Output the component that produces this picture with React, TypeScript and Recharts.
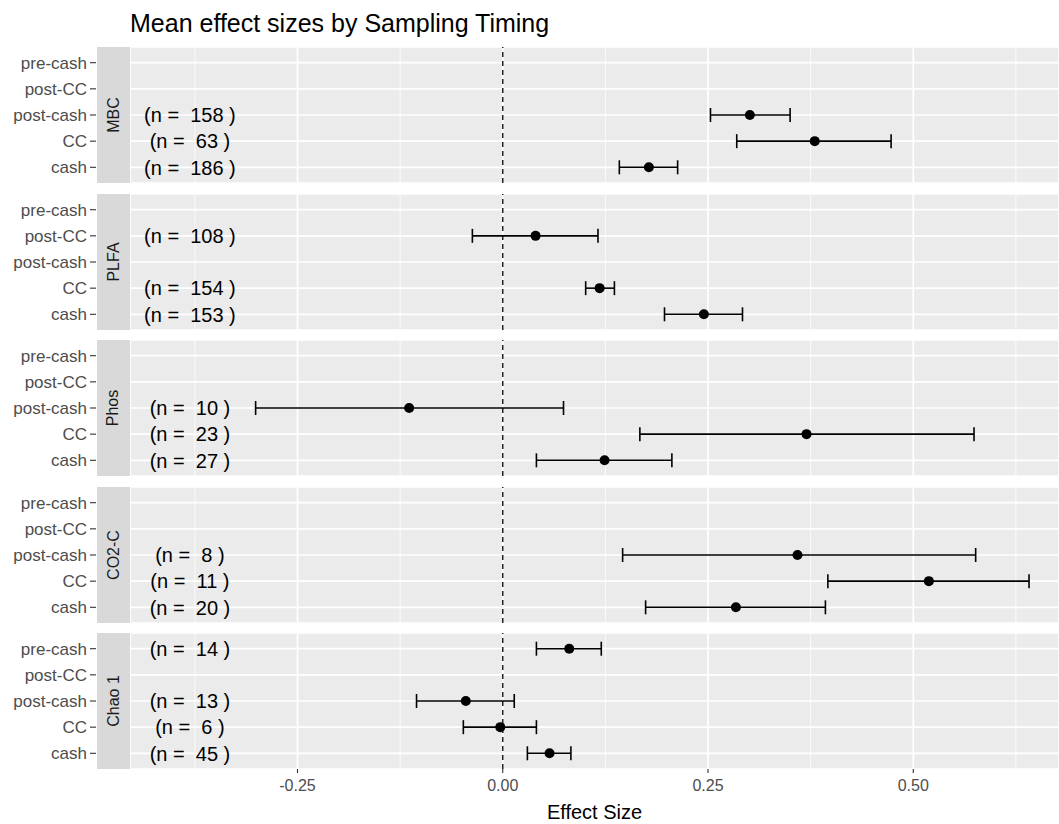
import { ScatterChart, Scatter, XAxis, YAxis, CartesianGrid, ReferenceLine, ErrorBar } from "recharts"

// facet order (top to bottom) and sampling timing order (bottom to top)
const facets = ["MBC", "PLFA", "Phos", "CO2-C", "Chao 1"]
const timings = ["cash", "CC", "post-cash", "post-CC", "pre-cash"]

// one entry per estimate
const rowFacet = [
  "MBC", "MBC", "MBC",
  "PLFA", "PLFA", "PLFA",
  "Phos", "Phos", "Phos",
  "CO2-C", "CO2-C", "CO2-C",
  "Chao 1", "Chao 1", "Chao 1", "Chao 1",
]
const rowTiming = [
  "post-cash", "CC", "cash",
  "post-CC", "CC", "cash",
  "post-cash", "CC", "cash",
  "post-cash", "CC", "cash",
  "pre-cash", "post-cash", "CC", "cash",
]
const effect = [0.301, 0.38, 0.178, 0.04, 0.118, 0.245, -0.114, 0.37, 0.124, 0.359, 0.519, 0.284, 0.081, -0.045, -0.003, 0.057]
const lower = [0.253, 0.285, 0.142, -0.037, 0.101, 0.197, -0.301, 0.167, 0.041, 0.146, 0.396, 0.174, 0.041, -0.105, -0.048, 0.03]
const upper = [0.35, 0.473, 0.213, 0.116, 0.136, 0.292, 0.074, 0.574, 0.206, 0.576, 0.641, 0.393, 0.12, 0.014, 0.041, 0.083]
const nStudies = [158, 63, 186, 108, 154, 153, 10, 23, 27, 8, 11, 20, 14, 13, 6, 45]

const xTicks = [-0.25, 0, 0.25, 0.5]
const xMinor = [-0.375, -0.125, 0.125, 0.375, 0.625]

// layout
const W = 1059
const H = 824
const PANEL_TOP = 47
const PANEL_H = 136
const PANEL_STEP = 146.5
const PLOT_LEFT = 130
const STRIP_W = 33
const X_DOMAIN = [-0.454, 0.6775]
const LABEL_X = -0.381
const FONT = "'Liberation Sans', Arial, sans-serif"

function YTick(props: any) {
  const { x, y, payload } = props
  return (
    <g>
      <line x1={x - STRIP_W - 7} x2={x - STRIP_W - 1} y1={y} y2={y} stroke="#333" strokeWidth={1.1} />
      <text x={x - STRIP_W - 10} y={y} dy="0.35em" textAnchor="end" fontSize={17} fill="#4d4d4d" fontFamily={FONT}>
        {timings[payload.value - 1]}
      </text>
    </g>
  )
}

function FacetPanel({ facet, index }: { facet: string; index: number }) {
  const bottom = index === facets.length - 1
  const top = PANEL_TOP + index * PANEL_STEP
  const height = bottom ? H - top : PANEL_H
  const rows = rowFacet.map((f, i) => (f === facet ? i : -1)).filter((i) => i >= 0)

  const points = rows.map((i) => ({
    x: effect[i],
    y: timings.indexOf(rowTiming[i]) + 1,
    err: [effect[i] - lower[i], upper[i] - effect[i]],
  }))
  const labels = rows.map((i) => ({
    x: LABEL_X,
    y: timings.indexOf(rowTiming[i]) + 1,
    n: nStudies[i],
  }))

  return (
    <div style={{ position: "absolute", left: 0, top, width: W, height }}>
      <ScatterChart width={W} height={height} margin={{ top: 0, right: 0, bottom: 0, left: 0 }}>
        <CartesianGrid fill="#ebebeb" stroke="#ffffff" strokeWidth={1.7} />
        <XAxis
          type="number"
          dataKey="x"
          domain={X_DOMAIN}
          ticks={xTicks}
          allowDataOverflow
          hide={!bottom}
          height={bottom ? height - PANEL_H : 0}
          axisLine={false}
          tickSize={4}
          tickMargin={7}
          tickLine={{ stroke: "#333", strokeWidth: 1.1 }}
          tick={{ fontSize: 16, fill: "#4d4d4d", fontFamily: FONT }}
          tickFormatter={(v: number) => v.toFixed(2)}
          label={{ value: "Effect Size", position: "insideBottom", offset: 5, fontSize: 20, fill: "#000", fontFamily: FONT }}
        />
        <YAxis
          type="number"
          dataKey="y"
          domain={[0.4, 5.6]}
          ticks={[1, 2, 3, 4, 5]}
          interval={0}
          allowDataOverflow
          width={PLOT_LEFT}
          axisLine={false}
          tickLine={false}
          tickSize={0}
          tickMargin={0}
          tick={(p: any) => <YTick {...p} />}
        />
        {xMinor.map((v) => (
          <ReferenceLine key={v} x={v} stroke="#ffffff" strokeWidth={0.8} />
        ))}
        <ReferenceLine x={0} stroke="#222" strokeWidth={1.5} strokeDasharray="5 4" />
        <Scatter
          data={points}
          isAnimationActive={false}
          shape={(p: any) => <circle cx={p.cx} cy={p.cy} r={5} fill="#000" />}
        >
          <ErrorBar dataKey="err" direction="x" width={7} stroke="#000" strokeWidth={1.6} />
        </Scatter>
        <Scatter
          data={labels}
          isAnimationActive={false}
          shape={(p: any) => (
            <text
              x={p.cx}
              y={p.cy}
              dy="0.36em"
              textAnchor="middle"
              fontSize={20}
              fill="#000"
              fontFamily={FONT}
              style={{ whiteSpace: "pre" }}
            >
              {`(n =  ${p.payload.n} )`}
            </text>
          )}
        />
      </ScatterChart>
      <div
        style={{
          position: "absolute",
          left: PLOT_LEFT - STRIP_W,
          top: 0,
          width: STRIP_W,
          height: PANEL_H,
          background: "#d9d9d9",
          display: "flex",
          alignItems: "center",
          justifyContent: "center",
        }}
      >
        <span style={{ transform: "rotate(-90deg)", whiteSpace: "nowrap", fontSize: 16, color: "#1a1a1a", fontFamily: FONT }}>
          {facet}
        </span>
      </div>
    </div>
  )
}

export default function App() {
  return (
    <div style={{ position: "absolute", left: 0, top: 0, width: W, height: H, background: "#fff", fontFamily: FONT, overflow: "hidden" }}>
      <div style={{ position: "absolute", left: PLOT_LEFT, top: 11, fontSize: 25, lineHeight: "25px", color: "#000", whiteSpace: "nowrap" }}>
        Mean effect sizes by Sampling Timing
      </div>
      {facets.map((f, i) => (
        <FacetPanel key={f} facet={f} index={i} />
      ))}
    </div>
  )
}
